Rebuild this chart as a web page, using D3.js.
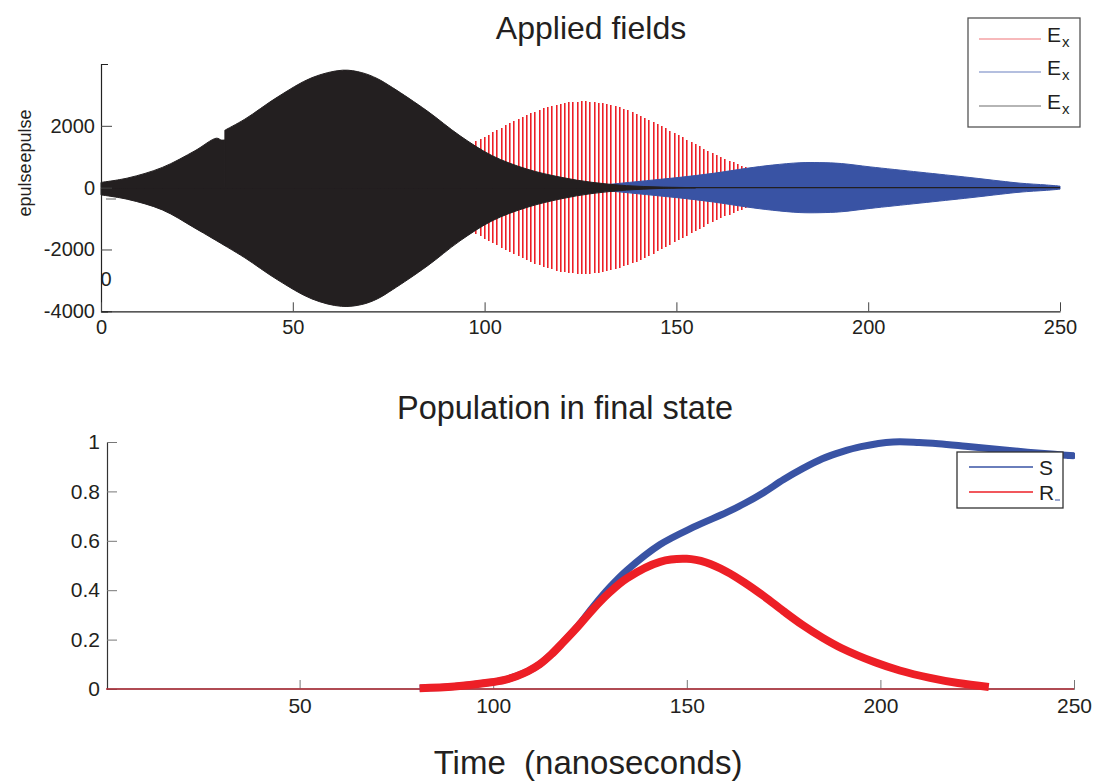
<!DOCTYPE html>
<html><head><meta charset="utf-8">
<script src="https://cdn.jsdelivr.net/npm/d3@7"></script>
<style>
html,body{margin:0;padding:0;background:#fff;}
svg{display:block;font-family:"Liberation Sans",Arial,sans-serif;}
</style></head>
<body><svg id="c" width="1095" height="783"></svg>
<script>
// ---------- Data (top: applied fields) ----------
const topXTicks = [0, 50, 100, 150, 200, 250];
const topYTicks = [-4000, -2000, 0, 2000];
// black field envelope, upper edge in two pieces (step near t=32)
const blackUpT1 = [0, 7, 16, 24.5, 30.1, 31.4, 32.3];
const blackUp1  = [170, 313, 655, 1194, 1600, 1540, 1545];
const blackUpT2 = [32.3, 37.5, 46, 55, 63, 68, 72, 76, 85, 93.6, 102, 111, 120, 128, 137, 146, 155];
const blackUp2  = [1860, 2216, 2930, 3558, 3800, 3720, 3530, 3236, 2484, 1677, 1032, 602, 333, 172, 65, 20, 0];
// black field envelope, lower edge
const blackLoT = [0, 7, 16, 24.5, 33, 37.5, 46, 55, 62.7, 68, 72, 76, 85, 93.6, 102, 111, 120, 128, 137, 146, 155];
const blackLo  = [-235, -380, -720, -1310, -1930, -2270, -2980, -3600, -3840, -3780, -3600, -3300, -2540, -1720, -1070, -640, -360, -190, -80, -25, 0];
// red field: individual oscillation strokes (time, amplitude)
const redTimes = [97.6,98.7,99.8,100.9,102.0,103.1,104.2,105.3,106.4,107.5,108.6,109.7,110.8,111.9,113.0,114.1,115.2,116.3,117.4,118.5,119.6,120.7,121.8,122.9,124.0,125.1,126.2,127.3,128.4,129.5,130.6,131.7,132.8,133.9,135.0,136.1,137.2,138.3,139.4,140.5,141.6,142.7,143.8,144.9,146.0,147.1,148.2,149.3,150.4,151.5,152.6,153.7,154.8,155.9,157.0,158.1,159.2,160.3,161.4,162.5,163.6,164.7,165.8,166.9,168.0,169.1];
const redAmp = [1497,1571,1645,1719,1794,1868,1941,2013,2084,2153,2220,2285,2347,2406,2462,2514,2563,2607,2647,2683,2714,2739,2760,2775,2785,2790,2789,2783,2771,2754,2733,2706,2674,2637,2596,2550,2501,2447,2390,2330,2267,2202,2134,2065,1993,1921,1848,1773,1699,1625,1550,1477,1404,1332,1261,1192,1125,1059,995,933,874,816,761,708,658,610];
// blue field envelope
const blueT   = [128,133.5,142.2,150.9,159.6,168.3,175,182.2,187.4,193,200.5,213.5,226.5,234.4,239.6,246.5,250];
const blueAmp = [50,118,225,333,463,625,730,806,810,780,672,500,328,215,145,86,50];
const topLegend = ["E", "E", "E"];

// ---------- Data (bottom: population) ----------
const botXTicks = [50, 100, 150, 200, 250];
const botYTicks = [0, 0.2, 0.4, 0.6, 0.8, 1];
const timeR = [81,90,99,103,106,109,112,115,118,122,125.9,130,134.5,143.1,150,155,160.3,165,170,175,180,185,190,198.6,205,212.8,220,228];
const popR  = [0.003,0.01,0.026,0.037,0.052,0.072,0.1,0.14,0.188,0.255,0.325,0.39,0.448,0.515,0.527,0.512,0.475,0.43,0.375,0.315,0.258,0.208,0.165,0.108,0.075,0.045,0.024,0.008];
const timeS = [81,90,99,103,106,109,112,115,118,122,125.9,130,134.5,143.1,151.7,160.3,165,170,175,180,185,190,195,203.3,210,215,222,230,238,245,250];
const popS  = [0.003,0.01,0.026,0.037,0.052,0.072,0.1,0.14,0.188,0.257,0.335,0.41,0.48,0.585,0.655,0.715,0.752,0.797,0.848,0.893,0.932,0.96,0.981,1.0,0.998,0.993,0.983,0.971,0.959,0.950,0.944];
const botLegend = ["S", "R"];

const RED = "#ed1f26", BLUE = "#3953a4", BLACK = "#231f20";
const svg = d3.select("#c");
const txt = "#231f20";

// ================= TOP PANEL =================
const xT = d3.scaleLinear().domain([0, 250]).range([101, 1060]);
const yT = d3.scaleLinear().domain([-4000, 4000]).range([311.3, 64]);
const gT = svg.append("g");

// red strokes (snapped to pixels)
const snap = (v) => Math.round(v) + 0.5;
const redG = gT.append("g").attr("shape-rendering", "crispEdges");
redG.selectAll("line.pk").data(redTimes).join("line").attr("class","pk")
  .attr("x1", (t) => snap(xT(t)) + 1).attr("x2", (t) => snap(xT(t)) + 1)
  .attr("y1", (t,i) => yT(redAmp[i])).attr("y2", (t,i) => yT(-redAmp[i]))
  .attr("stroke", "#f37c7f").attr("stroke-width", 1);
redG.selectAll("line.rd").data(redTimes).join("line").attr("class","rd")
  .attr("x1", (t) => snap(xT(t))).attr("x2", (t) => snap(xT(t)))
  .attr("y1", (t,i) => yT(redAmp[i])).attr("y2", (t,i) => yT(-redAmp[i]))
  .attr("stroke", RED).attr("stroke-width", 1);

// blue envelope area
const blueData = blueT.map((t,i) => ({t, a: blueAmp[i]}));
gT.append("path").datum(blueData)
  .attr("d", d3.area().curve(d3.curveCatmullRom).x(d => xT(d.t)).y0(d => yT(-d.a)).y1(d => yT(d.a)))
  .attr("fill", BLUE).attr("stroke", BLUE).attr("stroke-width", 1);

// black envelope areas (upper half in two pieces, lower half)
const upArea = d3.area().curve(d3.curveCatmullRom).x(d => xT(d[0])).y0(yT(0)).y1(d => yT(d[1]));
[[blackUpT1, blackUp1], [blackUpT2, blackUp2], [blackLoT, blackLo]].forEach(([ts, vs]) => {
  gT.append("path").datum(ts.map((t,i) => [t, vs[i]]))
    .attr("d", upArea).attr("fill", BLACK).attr("stroke", BLACK).attr("stroke-width", 1);
});
// zero line of black field
gT.append("path").datum([0, 250])
  .attr("d", d3.line().x(d => xT(d)).y(() => yT(0)))
  .attr("stroke", BLACK).attr("stroke-width", 1.3).attr("fill", "none");

// axes
const axL = d3.axisLeft(yT).tickValues(topYTicks).tickFormat(d => String(d))
  .tickSizeInner(-11).tickSizeOuter(-7).tickPadding(6);
const gax = gT.append("g").attr("transform", "translate(101,0)").call(axL);
const axB = d3.axisBottom(xT).tickValues(topXTicks).tickFormat(d => String(d))
  .tickSizeInner(-9).tickSizeOuter(0).tickPadding(9);
const gbx = gT.append("g").attr("transform", "translate(0,311.3)").call(axB);
[gax, gbx].forEach(g => {
  g.select(".domain").attr("stroke", "#222").attr("stroke-width", 1.2);
  g.selectAll(".tick line").attr("stroke", "#444");
  g.selectAll("text").attr("font-size", 20).attr("fill", txt).attr("font-family", '"Liberation Sans",Arial,sans-serif');
});
// stray marks
gT.append("text").attr("x", 106).attr("y", 286).attr("text-anchor","middle").attr("font-size", 20).attr("fill", txt).text("0");
gT.append("line").attr("x1",106).attr("x2",116).attr("y1",199).attr("y2",199).attr("stroke","#666").attr("stroke-width",1);

// title and y labels
svg.append("text").attr("x", 591).attr("y", 39).attr("text-anchor", "middle").attr("font-size", 32).attr("fill", txt).text("Applied fields");
[190, 136].forEach(cy => {
  svg.append("text").attr("transform", `translate(31,${cy}) rotate(-90)`).attr("text-anchor", "middle")
    .attr("font-size", 18).attr("fill", txt).text("epulse");
});

// top legend
const lgT = svg.append("g");
lgT.append("rect").attr("x", 968).attr("y", 18).attr("width", 112).attr("height", 109)
  .attr("fill", "#fff").attr("stroke", "#555").attr("stroke-width", 1.3);
const legCols = ["#f07478", "#6a80bf", "#6d6d6d"];
const legY = [39, 72, 106];
topLegend.forEach((lab, i) => {
  lgT.append("line").attr("x1", 979).attr("x2", 1041).attr("y1", legY[i]).attr("y2", legY[i])
    .attr("stroke", legCols[i]).attr("stroke-width", 1.2);
  const t = lgT.append("text").attr("x", 1047).attr("y", legY[i] + 3).attr("font-size", 21).attr("fill", txt);
  t.append("tspan").text(lab);
  t.append("tspan").attr("font-size", 15).attr("dy", 5).attr("dx", 1).text("x");
});

// ================= BOTTOM PANEL =================
const xB = d3.scaleLinear().domain([0, 250]).range([106, 1074]);
const yB = d3.scaleLinear().domain([0, 1]).range([689, 442]);
const gB = svg.append("g");

const axL2 = d3.axisLeft(yB).tickValues(botYTicks).tickFormat(d => String(d))
  .tickSizeInner(-10).tickSizeOuter(0).tickPadding(7);
const gay = gB.append("g").attr("transform", "translate(107,0)").call(axL2);
const axB2 = d3.axisBottom(xB).tickValues(botXTicks).tickFormat(d => String(d))
  .tickSizeInner(-9).tickSizeOuter(0).tickPadding(9);
const gbx2 = gB.append("g").attr("transform", "translate(0,689)").call(axB2);
gbx2.select(".domain").attr("d", `M107,0H1075`);
[gay, gbx2].forEach(g => {
  g.select(".domain").attr("stroke", "#333").attr("stroke-width", 1.2);
  g.selectAll(".tick line").attr("stroke", "#777");
  g.selectAll("text").attr("font-size", 21).attr("fill", txt).attr("font-family", '"Liberation Sans",Arial,sans-serif');
});

// thin zero trace
gB.append("path").datum([0, 250])
  .attr("d", d3.line().x(d => xB(d)).y(() => yB(0)))
  .attr("stroke", "#b8323c").attr("stroke-width", 1.4).attr("fill", "none");

const lineB = d3.line().curve(d3.curveCatmullRom).x(d => xB(d[0])).y(d => yB(d[1]));
gB.append("path").datum(timeS.map((t,i) => [t, popS[i]]))
  .attr("d", lineB).attr("fill", "none").attr("stroke", BLUE).attr("stroke-width", 7);
gB.append("rect").attr("x", xB(250) - 7).attr("y", yB(popS[popS.length-1]) - 3).attr("width", 8).attr("height", 6).attr("fill", BLUE);
gB.append("path").datum(timeR.map((t,i) => [t, popR[i]]))
  .attr("d", lineB).attr("fill", "none").attr("stroke", RED).attr("stroke-width", 8);

// bottom legend
const lgB = svg.append("g");
lgB.append("rect").attr("x", 957).attr("y", 452).attr("width", 106).attr("height", 56)
  .attr("fill", "#fff").attr("stroke", "#333").attr("stroke-width", 1.3);
const bCols = [BLUE, RED], bY = [467, 492];
botLegend.forEach((lab, i) => {
  lgB.append("line").attr("x1", 969).attr("x2", 1033).attr("y1", bY[i]).attr("y2", bY[i])
    .attr("stroke", bCols[i]).attr("stroke-width", 1.3);
  lgB.append("text").attr("x", 1039).attr("y", bY[i] + 8).attr("font-size", 21).attr("fill", txt).text(lab);
});
lgB.append("line").attr("x1", 1055).attr("x2", 1060).attr("y1", 500).attr("y2", 500).attr("stroke", BLUE).attr("stroke-width", 1);

svg.append("text").attr("x", 565).attr("y", 419).attr("text-anchor", "middle").attr("font-size", 32.5).attr("fill", txt).text("Population in final state");
svg.append("text").attr("x", 588).attr("y", 774).attr("text-anchor", "middle").attr("font-size", 33).attr("fill", txt)
  .style("white-space", "pre").text("Time  (nanoseconds)");
</script>
</body></html>
